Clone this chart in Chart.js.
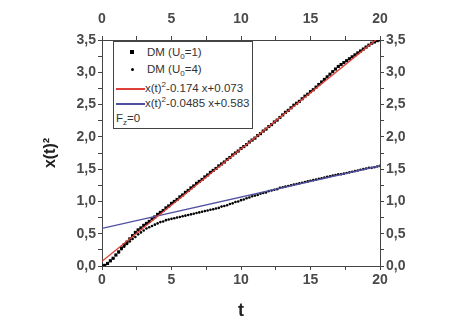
<!DOCTYPE html>
<html lang="en">
<head>
<meta charset="UTF-8">
<title>x(t)^2 vs t</title>
<script src="https://cdn.jsdelivr.net/npm/chart.js"></script>
<style>
    body { margin: 0; background: #fff; }
    .wrap { position: relative; width: 455px; height: 322px; }
    .legend {
        position: absolute; left: 113px; top: 41px; width: 138px; height: 86px;
        border: 1px solid #444; background: #fff;
        font-family: "Liberation Sans", Arial, sans-serif; font-size: 11.5px; color: #333;
    }
    .legend .row { position: absolute; left: 0; height: 14px; line-height: 14px; white-space: nowrap; }
    .legend .txt { position: absolute; top: 0; }
    .legend sub { font-size: 8px; vertical-align: -3px; line-height: 0; }
    .legend sup { font-size: 8px; vertical-align: 5px; line-height: 0; }
    .mk { position: absolute; background: #000; }
    .ln { position: absolute; height: 1.5px; }
</style>
</head>
<body>
<div class="wrap">
    <canvas id="graphique" width="455" height="322"></canvas>
    <div class="legend">
        <div class="row" style="top:3px"><span class="mk" style="left:16px;top:5px;width:4px;height:4px"></span><span class="txt" style="left:33px">DM (U<sub>0</sub>=1)</span></div>
        <div class="row" style="top:20px"><span class="mk" style="left:17px;top:6px;width:3px;height:3px;border-radius:50%"></span><span class="txt" style="left:33px">DM (U<sub>0</sub>=4)</span></div>
        <div class="row" style="top:39px"><span class="ln" style="left:2px;top:7px;width:29px;background:#e0403a"></span><span class="txt" style="left:31px">x(t)<sup>2</sup>-0.174 x+0.073</span></div>
        <div class="row" style="top:54px"><span class="ln" style="left:2px;top:7px;width:29px;background:#4f4fa0"></span><span class="txt" style="left:31px">x(t)<sup>2</sup>-0.0485 x+0.583</span></div>
        <div class="row" style="top:69px"><span class="txt" style="left:2px">F<sub>z</sub>=0</span></div>
    </div>
</div>
<script>
    // temps t
    const temps = [0, 0.2, 0.4, 0.6, 0.8, 1, 1.2, 1.4, 1.6, 1.8, 2, 2.2, 2.4, 2.6, 2.8, 3, 3.2, 3.4, 3.6, 3.8,
        4, 4.2, 4.4, 4.6, 4.8, 5, 5.2, 5.4, 5.6, 5.8, 6, 6.2, 6.4, 6.6, 6.8, 7, 7.2, 7.4, 7.6, 7.8,
        8, 8.2, 8.4, 8.6, 8.8, 9, 9.2, 9.4, 9.6, 9.8, 10, 10.2, 10.4, 10.6, 10.8, 11, 11.2, 11.4, 11.6, 11.8,
        12, 12.2, 12.4, 12.6, 12.8, 13, 13.2, 13.4, 13.6, 13.8, 14, 14.2, 14.4, 14.6, 14.8, 15, 15.2, 15.4, 15.6, 15.8,
        16, 16.2, 16.4, 16.6, 16.8, 17, 17.2, 17.4, 17.6, 17.8, 18, 18.2, 18.4, 18.6, 18.8, 19, 19.2, 19.4, 19.6, 19.8, 20];

    // DM (U0=1) - carrés noirs
    const dmU1 = [0.00, 0.01, 0.04, 0.08, 0.12, 0.17, 0.22, 0.28, 0.33, 0.37, 0.42, 0.47, 0.52, 0.56, 0.59, 0.63, 0.66, 0.69, 0.73, 0.76,
        0.80, 0.83, 0.86, 0.90, 0.93, 0.97, 1.00, 1.03, 1.07, 1.10, 1.14, 1.17, 1.21, 1.24, 1.28, 1.31, 1.34, 1.38, 1.41, 1.45,
        1.48, 1.51, 1.55, 1.58, 1.61, 1.65, 1.68, 1.72, 1.75, 1.78, 1.82, 1.85, 1.88, 1.92, 1.95, 1.98, 2.02, 2.05, 2.09, 2.12,
        2.16, 2.19, 2.23, 2.26, 2.30, 2.34, 2.38, 2.41, 2.45, 2.49, 2.52, 2.55, 2.59, 2.63, 2.66, 2.70, 2.73, 2.77, 2.81, 2.85,
        2.89, 2.93, 2.97, 3.01, 3.05, 3.09, 3.12, 3.15, 3.18, 3.21, 3.24, 3.27, 3.30, 3.33, 3.36, 3.39, 3.42, 3.45, 3.47, 3.49, 3.50];

    // DM (U0=4) - petits points noirs
    const dmU4 = [0.00, 0.01, 0.04, 0.08, 0.12, 0.17, 0.21, 0.26, 0.30, 0.34, 0.38, 0.42, 0.45, 0.49, 0.52, 0.55, 0.58, 0.60, 0.62, 0.64,
        0.66, 0.68, 0.69, 0.71, 0.72, 0.73, 0.74, 0.75, 0.76, 0.77, 0.78, 0.79, 0.80, 0.81, 0.82, 0.83, 0.84, 0.85, 0.86, 0.87,
        0.88, 0.89, 0.90, 0.92, 0.93, 0.94, 0.96, 0.97, 0.99, 1.00, 1.02, 1.03, 1.05, 1.06, 1.08, 1.09, 1.10, 1.12, 1.13, 1.14,
        1.16, 1.17, 1.18, 1.19, 1.21, 1.22, 1.23, 1.24, 1.25, 1.26, 1.27, 1.28, 1.29, 1.30, 1.31, 1.32, 1.33, 1.34, 1.35, 1.36,
        1.37, 1.38, 1.39, 1.40, 1.41, 1.42, 1.42, 1.43, 1.44, 1.45, 1.46, 1.47, 1.48, 1.49, 1.50, 1.51, 1.52, 1.52, 1.53, 1.54, 1.55];

    // ajustements linéaires [pente, ordonnée]
    const fitRouge = [0.174, 0.073];
    const fitBleu = [0.0485, 0.583];
    const fitT = [0, 20];

    const xTicks = [0, 5, 10, 15, 20];
    const yTicks = [0, 0.5, 1, 1.5, 2, 2.5, 3, 3.5];

    const pts = arr => temps.map((t, i) => ({ x: t, y: arr[i] }));
    const droite = f => fitT.map(t => ({ x: t, y: f[0] * t + f[1] }));

    const police = { family: "'Liberation Sans', Arial, sans-serif", size: 14, weight: 'bold' };
    const gris = '#4a4a4a';
    const grille = { display: true, drawOnChartArea: false, drawTicks: true, tickLength: 4, color: '#444' };
    const bord = { display: true, color: '#444', width: 1 };
    const labX = v => xTicks.includes(v) ? String(v) : '';
    const labY = v => yTicks.includes(v) ? v.toFixed(1).replace('.', ',') : '';

    new Chart(document.getElementById('graphique').getContext('2d'), {
        type: 'scatter',
        data: {
            datasets: [
                { data: droite(fitRouge), type: 'line', borderColor: '#e0403a', borderWidth: 1.4, pointRadius: 0, order: 0 },
                { data: droite(fitBleu), type: 'line', borderColor: '#4f4fa0', borderWidth: 1.4, pointRadius: 0, order: 0 },
                { data: pts(dmU1), pointStyle: 'rect', pointRadius: 2.2, backgroundColor: '#000', borderWidth: 0, order: 1 },
                { data: pts(dmU4), pointStyle: 'circle', pointRadius: 1.3, backgroundColor: '#000', borderWidth: 0, order: 2 }
            ]
        },
        options: {
            responsive: false,
            animation: false,
            layout: { padding: 0 },
            plugins: { legend: { display: false }, tooltip: { enabled: false } },
            scales: {
                x: {
                    type: 'linear', position: 'bottom', min: 0, max: 20,
                    ticks: { stepSize: 2.5, autoSkip: false, maxRotation: 0, callback: labX, color: gris, font: police, padding: 2 },
                    grid: grille, border: bord,
                    title: { display: true, text: 't', color: '#222', font: { family: police.family, size: 18, weight: 'bold' }, padding: { top: 6, bottom: 0 } },
                    afterFit: s => { s.height = 56; }
                },
                x2: {
                    type: 'linear', position: 'top', min: 0, max: 20, display: true,
                    ticks: { stepSize: 2.5, autoSkip: false, maxRotation: 0, callback: labX, color: gris, font: police, padding: 8 },
                    grid: grille, border: bord,
                    afterFit: s => { s.height = 40; }
                },
                y: {
                    type: 'linear', position: 'left', min: 0, max: 3.5,
                    ticks: { stepSize: 0.25, autoSkip: false, callback: labY, color: gris, font: police, padding: 2 },
                    grid: grille, border: bord,
                    title: { display: true, text: 'x(t)²', color: '#222', font: { family: police.family, size: 16, weight: 'bold' }, padding: { top: 41, bottom: 0 } },
                    afterFit: s => { s.width = 102; }
                },
                y2: {
                    type: 'linear', position: 'right', min: 0, max: 3.5, display: true,
                    ticks: { stepSize: 0.25, autoSkip: false, callback: labY, color: gris, font: police, padding: 2 },
                    grid: grille, border: bord,
                    afterFit: s => { s.width = 75; }
                }
            }
        }
    });
</script>
</body>
</html>
